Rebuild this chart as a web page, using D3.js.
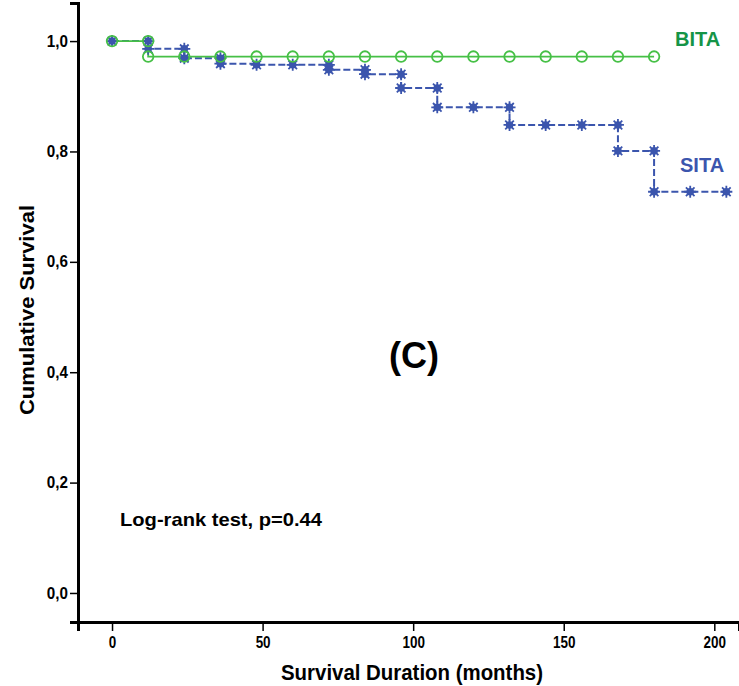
<!DOCTYPE html>
<html>
<head>
<meta charset="utf-8">
<script src="https://cdn.jsdelivr.net/npm/d3@7"></script>
<style>
  body { margin: 0; background: #fff; }
  svg { display: block; font-family: "Liberation Sans", Arial, sans-serif; }
</style>
</head>
<body>
<svg id="chart" width="739" height="686"></svg>
<script>
// Kaplan-Meier step curves (time in months, survival after the event)
const bitaTimes = [0, 12];
const bitaSurv = [1.0, 0.972];
const bitaEnd = 180;
const bitaCensorT = [0, 12, 12, 24, 36, 48, 60, 72, 84, 96, 108, 120, 132, 144, 156, 168, 180];
const bitaCensorS = [1.0, 1.0, 0.972, 0.972, 0.972, 0.972, 0.972, 0.972, 0.972, 0.972, 0.972, 0.972, 0.972, 0.972, 0.972, 0.972, 0.972];

const sitaTimes = [0, 12, 24, 36, 48, 72, 84, 96, 108, 132, 168, 180];
const sitaSurv = [1.0, 0.986, 0.969, 0.959, 0.957, 0.948, 0.940, 0.915, 0.880, 0.848, 0.801, 0.727];
const sitaEnd = 204;
const sitaCensorT = [0, 12, 12, 24, 24, 36, 36, 48, 60, 72, 72, 84, 84, 96, 96, 108, 108, 120, 132, 132, 144, 156, 168, 168, 180, 180, 192, 204];
const sitaCensorS = [1.0, 1.0, 0.986, 0.986, 0.969, 0.969, 0.959, 0.957, 0.957, 0.957, 0.948, 0.948, 0.940, 0.940, 0.915, 0.915, 0.880, 0.880, 0.880, 0.848, 0.848, 0.848, 0.848, 0.801, 0.801, 0.727, 0.727, 0.727];

const xTicks = [0, 50, 100, 150, 200];
const yTicks = [0, 0.2, 0.4, 0.6, 0.8, 1.0];

const green = "#46c046";
const greenText = "#159447";
const blue = "#3b55ad";

const svg = d3.select("#chart");

const xScale = d3.scaleLinear().domain([-11.3, 208.2]).range([78, 739]);
const yScale = d3.scaleLinear().domain([-0.0526, 1.069]).range([622, 3]);

// squeeze text horizontally, like the narrow font of the original
function narrow(sel, k) {
  sel.each(function () {
    const w = this.getComputedTextLength();
    d3.select(this).attr("textLength", w * k).attr("lengthAdjust", "spacingAndGlyphs");
  });
}

// Axes
const xAxis = d3.axisBottom(xScale).tickValues(xTicks).tickSizeOuter(0).tickSize(9).tickPadding(6);
const gx = svg.append("g").attr("transform", "translate(0,622)").call(xAxis);
gx.select(".domain").attr("stroke-width", 3);
gx.selectAll(".tick line").attr("stroke-width", 1.5);
gx.selectAll(".tick text").attr("font-size", 16).attr("font-weight", "bold").call(narrow, 0.84);

const yAxis = d3.axisLeft(yScale).tickValues(yTicks).tickSizeOuter(0).tickSize(8).tickPadding(2)
  .tickFormat(d => d3.format(".1f")(d).replace(".", ","));
const gy = svg.append("g").attr("transform", "translate(78,0)").call(yAxis);
gy.select(".domain").attr("stroke-width", 3);
gy.selectAll(".tick line").attr("stroke-width", 1.5);
gy.selectAll(".tick text").attr("font-size", 16).attr("font-weight", "bold").call(narrow, 0.95);

// Curves
function stepPoints(times, surv, end) {
  const pts = times.map((t, i) => [t, surv[i]]);
  pts.push([end, surv[surv.length - 1]]);
  return pts;
}
const line = d3.line()
  .x(d => xScale(d[0]))
  .y(d => yScale(d[1]))
  .curve(d3.curveStepAfter);

svg.append("path")
  .attr("d", line(stepPoints(sitaTimes, sitaSurv, sitaEnd)))
  .attr("fill", "none")
  .attr("stroke", blue)
  .attr("stroke-width", 2)
  .attr("stroke-dasharray", "7,3");

svg.append("path")
  .attr("d", line(stepPoints(bitaTimes, bitaSurv, bitaEnd)))
  .attr("fill", "none")
  .attr("stroke", green)
  .attr("stroke-width", 1.8);

// SITA censor marks (stars)
const star = "M-6,0L6,0M0,-6L0,6M-4.3,-4.3L4.3,4.3M-4.3,4.3L4.3,-4.3";
const stars = svg.append("g");
sitaCensorT.forEach((t, i) => {
  const g = stars.append("g")
    .attr("transform", `translate(${xScale(t)},${yScale(sitaCensorS[i])})`);
  g.append("path").attr("d", star).attr("stroke", blue).attr("stroke-width", 1.8);
  g.append("circle").attr("r", 3.8).attr("fill", blue);
});

// BITA censor marks (open circles)
svg.append("g").selectAll("circle")
  .data(bitaCensorT)
  .enter()
  .append("circle")
  .attr("cx", d => xScale(d))
  .attr("cy", (d, i) => yScale(bitaCensorS[i]))
  .attr("r", 5.3)
  .attr("fill", "none")
  .attr("stroke", green)
  .attr("stroke-width", 1.8);

// Labels
svg.append("text").attr("x", 675).attr("y", 46).text("BITA")
  .attr("font-size", 20).attr("font-weight", "bold").attr("fill", greenText);
svg.append("text").attr("x", 680).attr("y", 172).text("SITA")
  .attr("font-size", 20).attr("font-weight", "bold").attr("fill", blue);
svg.append("text").attr("x", 414).attr("y", 368).attr("text-anchor", "middle").text("(C)")
  .attr("font-size", 36).attr("font-weight", "bold");
svg.append("text").attr("x", 120).attr("y", 526).text("Log-rank test, p=0.44")
  .attr("font-size", 19).attr("font-weight", "bold")
  .attr("textLength", 202).attr("lengthAdjust", "spacingAndGlyphs");

// Axis titles
svg.append("text").attr("x", 412).attr("y", 680).attr("text-anchor", "middle")
  .text("Survival Duration (months)")
  .attr("font-size", 22).attr("font-weight", "bold")
  .attr("textLength", 262).attr("lengthAdjust", "spacingAndGlyphs");
svg.append("text")
  .attr("transform", "translate(34,310) rotate(-90)")
  .attr("text-anchor", "middle")
  .text("Cumulative Survival")
  .attr("font-size", 21).attr("font-weight", "bold")
  .attr("textLength", 210).attr("lengthAdjust", "spacingAndGlyphs");
</script>
</body>
</html>
